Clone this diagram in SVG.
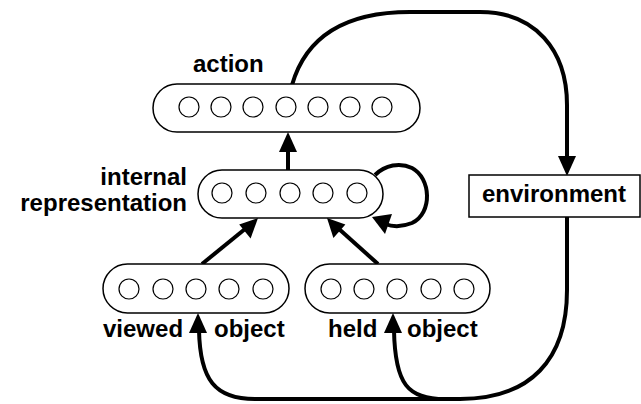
<svg xmlns="http://www.w3.org/2000/svg" width="641" height="404" viewBox="0 0 641 404">
  <style>
    .pool { fill: #fff; stroke: #000; stroke-width: 1.5; }
    .unit { fill: #fff; stroke: #000; stroke-width: 1.2; }
    .lbl { font-family: "Liberation Sans", Arial, sans-serif; font-weight: bold; font-size: 24px; fill: #000; }
    .wire { fill: none; stroke: #000; stroke-width: 4; }
    .head { fill: #000; stroke: none; }
  </style>
  <rect width="641" height="404" fill="#fff"/>

  <!-- connectors -->
  <g id="connectors">
    <!-- action -> environment -->
    <path class="wire" d="M 292 85 C 305 40, 340 12, 410 12 L 480 12 C 535 12, 567 50, 567 105 L 567 160"/>
    <polygon class="head" points="567,176 558,156 576,156"/>
    <!-- environment -> viewed / held -->
    <path class="wire" d="M 567 217 L 567 290 C 567 360, 530 399, 460 399 L 255 399 C 215 399, 200 380, 199 330"/>
    <path class="wire" d="M 445 399 C 408 399, 395 385, 394 330"/>
    <polygon class="head" points="198,313 189,333 207,333"/>
    <polygon class="head" points="393,313 384,333 402,333"/>
    <!-- internal -> action -->
    <line class="wire" x1="288" y1="170" x2="288" y2="148"/>
    <polygon class="head" points="288,132 279,152 297,152"/>
    <!-- viewed -> internal -->
    <line class="wire" x1="202" y1="264" x2="245" y2="229"/>
    <polygon class="head" points="258,218 250.6,238.6 239.2,224.6"/>
    <!-- held -> internal -->
    <line class="wire" x1="378" y1="264" x2="339" y2="229"/>
    <polygon class="head" points="327,218 345.4,224.5 333.4,237.9"/>
    <!-- recurrent loop -->
    <path class="wire" d="M 375 175 C 385 165, 400 162, 412 168 C 431 178, 433 213, 412 223 C 402 227, 393 227, 385 224"/>
    <polygon class="head" points="372,217 392,214 385,234"/>
  </g>

  <!-- action layer -->
  <g id="action">
    <rect class="pool" x="153" y="84" width="267" height="48" rx="24"/>
    <circle class="unit" cx="189" cy="107" r="10"/>
    <circle class="unit" cx="221" cy="107" r="10"/>
    <circle class="unit" cx="253" cy="107" r="10"/>
    <circle class="unit" cx="286" cy="107" r="10"/>
    <circle class="unit" cx="318" cy="107" r="10"/>
    <circle class="unit" cx="350" cy="107" r="10"/>
    <circle class="unit" cx="382" cy="107" r="10"/>
    <text class="lbl" x="193" y="72">action</text>
  </g>

  <!-- internal representation layer -->
  <g id="internal">
    <rect class="pool" x="198" y="170" width="185" height="48" rx="24"/>
    <circle class="unit" cx="222" cy="193" r="10"/>
    <circle class="unit" cx="256" cy="193" r="10"/>
    <circle class="unit" cx="290" cy="193" r="10"/>
    <circle class="unit" cx="323" cy="193" r="10"/>
    <circle class="unit" cx="357" cy="193" r="10"/>
    <text class="lbl" x="187" y="185" text-anchor="end">internal</text>
    <text class="lbl" x="187" y="211" text-anchor="end">representation</text>
  </g>

  <!-- viewed object layer -->
  <g id="viewed">
    <rect class="pool" x="103" y="264" width="186" height="49" rx="24.5"/>
    <circle class="unit" cx="129" cy="289" r="10"/>
    <circle class="unit" cx="163" cy="289" r="10"/>
    <circle class="unit" cx="196" cy="289" r="10"/>
    <circle class="unit" cx="229" cy="289" r="10"/>
    <circle class="unit" cx="263" cy="289" r="10"/>
    <text class="lbl" x="103" y="337">viewed</text>
    <text class="lbl" x="214" y="337">object</text>
  </g>

  <!-- held object layer -->
  <g id="held">
    <rect class="pool" x="305" y="264" width="185" height="49" rx="24.5"/>
    <circle class="unit" cx="331" cy="289" r="10"/>
    <circle class="unit" cx="364" cy="289" r="10"/>
    <circle class="unit" cx="397" cy="289" r="10"/>
    <circle class="unit" cx="431" cy="289" r="10"/>
    <circle class="unit" cx="464" cy="289" r="10"/>
    <text class="lbl" x="328" y="337">held</text>
    <text class="lbl" x="407" y="337">object</text>
  </g>

  <!-- environment -->
  <g id="environment">
    <rect class="pool" x="469" y="175" width="171" height="42"/>
    <text class="lbl" x="554" y="202" text-anchor="middle">environment</text>
  </g>
</svg>
